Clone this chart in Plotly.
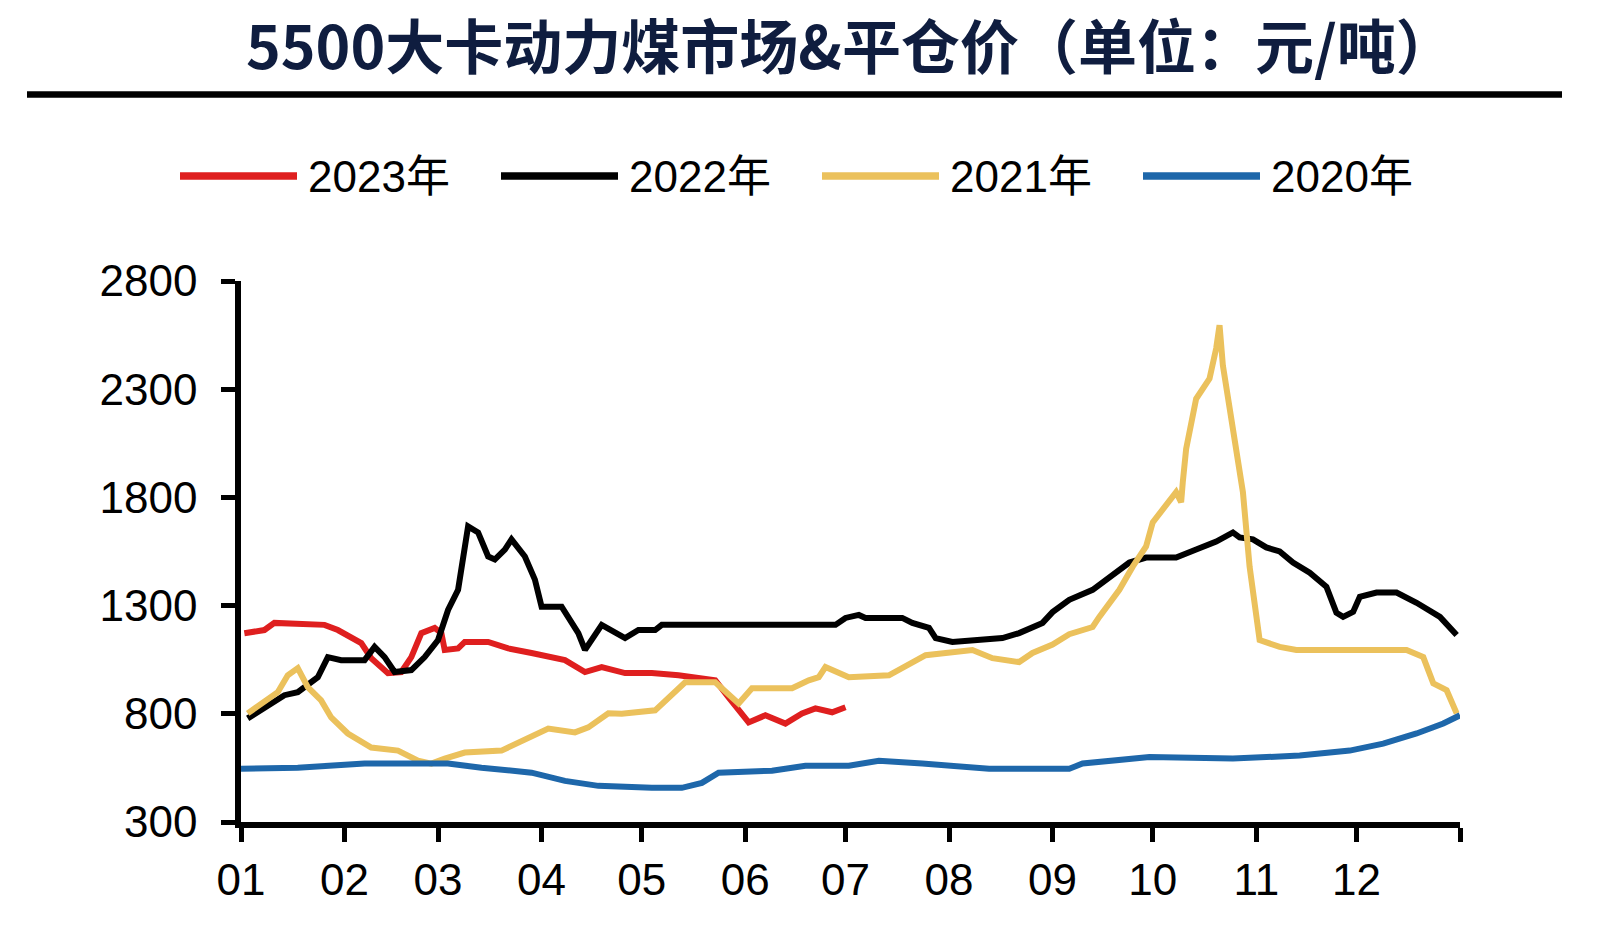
import pandas as pd
import plotly.graph_objects as go

# ---------------- data (x = day of year, y = 元/吨) ----------------
series_names = ["2023年", "2022年", "2021年", "2020年"]

days_2023 = [1, 7, 10, 25, 29, 33, 36, 39, 44, 48, 51, 54, 58, 60, 61, 65, 67, 74, 80, 87,
             97, 103, 108, 115, 123, 131, 142, 146, 149, 152, 157, 163, 168, 172, 177, 181]
vals_2023 = [1172, 1187, 1220, 1211, 1187, 1150, 1127, 1057, 988, 993, 1062, 1173, 1197, 1173,
             1095, 1102, 1132, 1132, 1102, 1081, 1048, 993, 1016, 988, 988, 978, 955, 876, 816,
             760, 793, 755, 802, 825, 807, 830]

days_2022 = [2, 7, 13, 17, 23, 26, 30, 37, 40, 43, 46, 51, 55, 59, 62, 65, 67, 68, 71, 74, 76,
             79, 81, 85, 88, 90, 96, 101, 103, 108, 115, 119, 124, 126, 178, 181, 185, 187, 198,
             201, 206, 208, 213, 228, 233, 240, 243, 248, 255, 263, 266, 271, 280, 286, 292, 297,
             299, 303, 307, 311, 315, 320, 325, 328, 330, 333, 335, 340, 346, 352, 359, 364]
vals_2022 = [779, 825, 886, 900, 969, 1062, 1048, 1048, 1109, 1062, 993, 1002, 1062, 1141, 1280,
             1373, 1545, 1666, 1638, 1527, 1513, 1559, 1606, 1527, 1420, 1295, 1295, 1173, 1095,
             1211, 1150, 1187, 1187, 1211, 1211, 1243, 1257, 1243, 1243, 1220, 1197, 1150, 1132,
             1150, 1173, 1220, 1270, 1327, 1373, 1466, 1499, 1522, 1522, 1559, 1596, 1638, 1615,
             1606, 1569, 1550, 1499, 1452, 1387, 1267, 1248, 1271, 1341, 1360, 1360, 1313, 1248,
             1164]

days_2021 = [2, 7, 11, 14, 17, 20, 24, 27, 32, 39, 47, 53, 57, 61, 67, 78, 83, 92, 100, 104,
             110, 114, 124, 127, 133, 142, 145, 149, 153, 165, 170, 173, 175, 182, 194, 198, 205,
             219, 225, 233, 237, 243, 248, 255, 257, 263, 267, 271, 273, 280, 281.5, 282, 283,
             286, 290, 292, 293, 294, 297, 300, 302, 305, 311, 316, 349, 354, 357, 361, 364]
vals_2021 = [802, 853, 900, 978, 1011, 923, 862, 783, 709, 644, 630, 583, 570, 593, 621, 630,
             667, 732, 714, 737, 802, 800, 816, 862, 946, 946, 900, 848, 918, 918, 955, 969,
             1016, 969, 978, 1011, 1071, 1095, 1057, 1039, 1081, 1120, 1168, 1201, 1248, 1373,
             1480, 1573, 1685, 1824, 1778, 1871, 2024, 2256, 2349, 2489, 2596, 2410, 2103, 1824,
             1480, 1141, 1109, 1095, 1095, 1062, 941, 909, 802]

days_2020 = [0, 17, 37, 52, 62, 72, 87, 97, 107, 123, 132, 138, 143, 159, 169, 182, 191, 204,
             213, 224, 248, 252, 272, 297, 317, 332, 342, 352, 360, 365]
vals_2020 = [546, 551, 570, 574, 570, 551, 528, 490, 467, 458, 458, 481, 528, 537, 560, 560,
             583, 570, 560, 546, 546, 570, 600, 593, 607, 630, 662, 709, 755, 793]

month_labels = ["01", "02", "03", "04", "05", "06", "07", "08", "09", "10", "11", "12"]
y_ticks = [300, 800, 1300, 1800, 2300, 2800]

colors = ["#DF1F1F", "#000000", "#EBC15C", "#1E67AA"]

# ---------------- figure ----------------
W, H = 1600, 935
ML, MR, MT, MB = 241, 140, 281, 113
base = pd.Timestamp("2021-01-01")


def to_dates(days):
    return [base + pd.Timedelta(days=float(d)) for d in days]


def px(xp):  # pixel -> paper x
    return (xp - ML) / (W - ML - MR)


def py(yp):  # pixel -> paper y
    return (H - MB - yp) / (H - MT - MB)


all_days = [days_2023, days_2022, days_2021, days_2020]
all_vals = [vals_2023, vals_2022, vals_2021, vals_2020]

fig = go.Figure()
for name, d, v, c in zip(series_names, all_days, all_vals, colors):
    fig.add_trace(go.Scatter(x=to_dates(d), y=v, name=name, mode="lines",
                             line=dict(color=c, width=6), showlegend=False))

tick_dates = [pd.Timestamp(f"2021-{m}-01") for m in month_labels] + [pd.Timestamp("2022-01-01")]

fig.update_layout(
    width=W, height=H,
    margin=dict(l=ML, r=MR, t=MT, b=MB),
    paper_bgcolor="white", plot_bgcolor="white",
    font=dict(family="Liberation Sans, Arial, Noto Sans CJK SC", size=44, color="#000000"),
    xaxis=dict(
        type="date",
        range=[pd.Timestamp("2021-01-01"), pd.Timestamp("2022-01-01")],
        tickmode="array", tickvals=tick_dates, ticktext=month_labels + [""],
        showgrid=False, zeroline=False,
        showline=True, linecolor="#000000", linewidth=5.5,
        ticks="outside", ticklen=14, tickwidth=4.5, tickcolor="#000000",
        ticklabelstandoff=0,
    ),
    yaxis=dict(
        range=[300, 2800], tickmode="array", tickvals=y_ticks,
        showgrid=False, zeroline=False,
        showline=True, linecolor="#000000", linewidth=5.5,
        ticks="outside", ticklen=14, tickwidth=4.5, tickcolor="#000000",
        ticklabelstandoff=15,
    ),
)

# title
fig.add_annotation(
    text="5500大卡动力煤市场&平仓价（单位：元/吨）",
    xref="paper", yref="paper", x=px(850), y=py(43),
    xanchor="center", yanchor="middle", showarrow=False,
    font=dict(family="Noto Sans CJK SC", size=59, color="#0F1D3F", weight="bold"),
)
# rule under title
fig.add_shape(type="line", xref="paper", yref="paper",
              x0=px(27), x1=px(1562), y0=py(94.5), y1=py(94.5),
              line=dict(color="#000000", width=6.5))

# legend (manual, to match long line samples)
leg_y = py(176)
for i, (name, c) in enumerate(zip(series_names, colors)):
    x0 = 180 + i * 321
    fig.add_shape(type="line", xref="paper", yref="paper",
                  x0=px(x0), x1=px(x0 + 117), y0=leg_y, y1=leg_y,
                  line=dict(color=c, width=7.5))
    fig.add_annotation(text=name, xref="paper", yref="paper",
                       x=px(x0 + 126), y=leg_y, xanchor="left", yanchor="middle",
                       showarrow=False,
                       font=dict(family="Liberation Sans, Arial, Noto Sans CJK SC",
                                 size=44, color="#000000"))

fig.write_html(
    "out.html",
    config={"displayModeBar": False},
    post_script="document.body.style.margin='0';document.body.style.overflow='hidden';",
)
